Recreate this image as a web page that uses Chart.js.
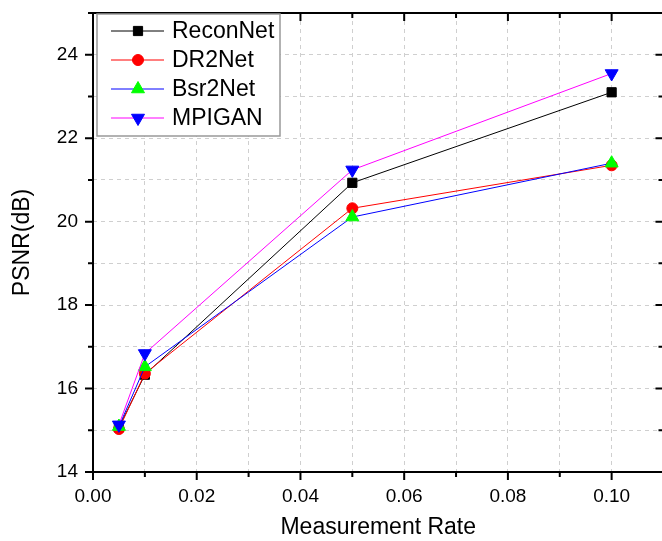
<!DOCTYPE html>
<html>
<head>
<meta charset="utf-8">
<script src="https://cdn.jsdelivr.net/npm/chart.js@4.4.1/dist/chart.umd.min.js"></script>
<style>
  html, body { margin: 0; padding: 0; background: #fff; overflow: hidden; }
  #wrap { width: 662px; height: 541px; overflow: hidden; }
</style>
</head>
<body>
<div id="wrap"><canvas id="chart" width="672" height="541"></canvas></div>
<script>
const rates = [0.005, 0.01, 0.05, 0.10];
const reconNet = [15.07, 16.33, 20.93, 23.10];
const dr2Net = [15.03, 16.36, 20.32, 21.35];
const bsr2Net = [15.09, 16.52, 20.11, 21.40];
const mpigan = [15.13, 16.84, 21.24, 23.55];

const seriesNames = ['ReconNet', 'DR2Net', 'Bsr2Net', 'MPIGAN'];
const xLabelTicks = ['0.00', '0.02', '0.04', '0.06', '0.08', '0.10'];
const yLabelTicks = [14, 16, 18, 20, 22, 24];

const FONT = "'Liberation Sans', Arial, sans-serif";

const styles = [
    { line: '#000000', fill: '#000000', pointStyle: 'rect', radius: 6.5, rotation: 0 },
    { line: '#ff0000', fill: '#ff0000', pointStyle: 'circle', radius: 5.5, rotation: 0 },
    { line: '#0000ff', fill: '#00ff00', pointStyle: 'triangle', radius: 7.5, rotation: 0 },
    { line: '#ff00ff', fill: '#0000ff', pointStyle: 'triangle', radius: 7.5, rotation: 180 },
];

const toPoints = vals => vals.map((v, i) => ({ x: rates[i], y: v }));

const datasets = [reconNet, dr2Net, bsr2Net, mpigan].map((vals, i) => ({
    label: seriesNames[i],
    data: toPoints(vals),
    borderColor: styles[i].line,
    borderWidth: 1,
    backgroundColor: styles[i].fill,
    pointBackgroundColor: styles[i].fill,
    pointBorderColor: styles[i].fill,
    pointBorderWidth: 1,
    pointStyle: styles[i].pointStyle,
    pointRadius: styles[i].radius,
    pointRotation: styles[i].rotation,
    tension: 0,
    order: 4 - i,
}));

// axis frame, tick marks and the boxed legend, drawn after the chart
const framePlugin = {
    id: 'frame',
    afterDraw(chart) {
        const { ctx, chartArea: a, scales: { x, y } } = chart;
        ctx.save();
        ctx.strokeStyle = '#000';
        ctx.lineWidth = 2;
        ctx.strokeRect(a.left, a.top, a.right - a.left, a.bottom - a.top);

        ctx.beginPath();
        x.ticks.forEach(t => {
            const px = x.getPixelForValue(t.value);
            const major = Math.round(t.value * 100) % 2 === 0;
            const len = major ? 8 : 5;
            ctx.moveTo(px, a.bottom); ctx.lineTo(px, a.bottom + len);
            ctx.moveTo(px, a.top); ctx.lineTo(px, a.top + len);
        });
        y.ticks.forEach(t => {
            const py = y.getPixelForValue(t.value);
            const major = Math.round(t.value) % 2 === 0;
            const len = major ? 8 : 5;
            ctx.moveTo(a.left, py); ctx.lineTo(a.left - len, py);
            ctx.moveTo(a.right, py); ctx.lineTo(a.right - len, py);
        });
        ctx.stroke();

        // legend
        const lx = a.left + 4, ly = a.top + 1, lw = 183, lh = 122;
        ctx.fillStyle = '#fff';
        ctx.fillRect(lx, ly, lw, lh);
        ctx.strokeStyle = '#999';
        ctx.lineWidth = 1.5;
        ctx.strokeRect(lx, ly, lw, lh);
        ctx.font = '23px ' + FONT;
        ctx.textBaseline = 'middle';
        seriesNames.forEach((name, i) => {
            const cy = ly + 17 + i * 29;
            const s = styles[i];
            ctx.strokeStyle = s.line;
            ctx.lineWidth = 1;
            ctx.beginPath();
            ctx.moveTo(lx + 14, cy); ctx.lineTo(lx + 67, cy);
            ctx.stroke();
            ctx.fillStyle = s.fill;
            ctx.strokeStyle = s.fill;
            Chart.helpers.drawPoint(ctx, { pointStyle: s.pointStyle, radius: s.radius, rotation: s.rotation, borderWidth: 1 }, lx + 41, cy);
            ctx.fillStyle = '#000';
            ctx.fillText(name, lx + 75, cy + 1);
        });
        ctx.restore();
    }
};

new Chart(document.getElementById('chart'), {
    type: 'line',
    data: { datasets },
    options: {
        responsive: false,
        animation: false,
        layout: { padding: { left: 0, top: 13, right: 1, bottom: 0 } },
        plugins: { legend: { display: false }, tooltip: { enabled: false } },
        scales: {
            x: {
                type: 'linear',
                min: 0, max: 0.11,
                afterFit: s => { s.height = 69; s.paddingLeft = 0; s.paddingRight = 0; },
                grid: { color: '#cfcfcf', lineWidth: 1, drawTicks: false },
                border: { display: false, dash: [4, 4] },
                ticks: {
                    stepSize: 0.01,
                    padding: 13,
                    color: '#000',
                    font: { family: FONT, size: 19 },
                    maxRotation: 0,
                    autoSkip: false,
                    callback: v => {
                        const k = Math.round(v * 100);
                        return k % 2 === 0 ? xLabelTicks[k / 2] : '';
                    },
                },
                title: { display: true, text: 'Measurement Rate', color: '#000', font: { family: FONT, size: 23 }, padding: { top: 0, bottom: 0 } },
            },
            y: {
                min: 14, max: 25,
                afterFit: s => { s.width = 93; s.paddingTop = 0; s.paddingBottom = 0; },
                grid: { color: '#cfcfcf', lineWidth: 1, drawTicks: false },
                border: { display: false, dash: [4, 4] },
                ticks: {
                    stepSize: 1,
                    padding: 15,
                    color: '#000',
                    font: { family: FONT, size: 19 },
                    autoSkip: false,
                    callback: v => (yLabelTicks.includes(Math.round(v)) ? String(Math.round(v)) : ''),
                },
                title: { display: true, text: 'PSNR(dB)', color: '#000', font: { family: FONT, size: 23 }, padding: { top: 9, bottom: 0 } },
            },
        },
    },
    plugins: [framePlugin],
});
</script>
</body>
</html>
